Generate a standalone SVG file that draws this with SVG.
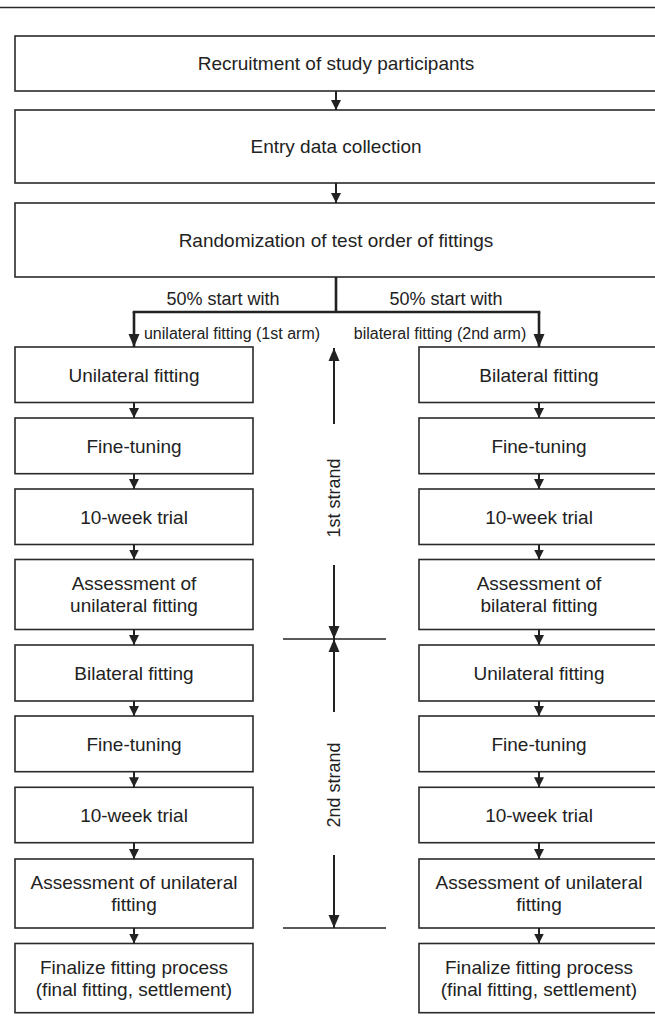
<svg xmlns="http://www.w3.org/2000/svg" width="655" height="1024" viewBox="0 0 655 1024">
<style>
.box{fill:#fff;stroke:#2a2a2a;stroke-width:1.6}
.t{font-family:"Liberation Sans",Arial,sans-serif;font-size:19px;fill:#222;text-anchor:middle}
.lb{font-family:"Liberation Sans",Arial,sans-serif;font-size:18px;fill:#222;text-anchor:middle}
.sl{font-family:"Liberation Sans",Arial,sans-serif;font-size:16px;fill:#222;text-anchor:middle}
.c{stroke:#222;stroke-width:2;fill:none}
.cb{stroke:#222;stroke-width:2.6;fill:none}
</style>
<defs>
<marker id="ah" markerUnits="userSpaceOnUse" markerWidth="11" markerHeight="11" refX="10" refY="5.5" orient="auto">
<path d="M0,0.5 L10,5.5 L0,10.5 Z" fill="#222"/>
</marker>
<marker id="ahb" markerUnits="userSpaceOnUse" markerWidth="14" markerHeight="12" refX="13" refY="6" orient="auto">
<path d="M0,0.5 L13,6 L0,11.5 Z" fill="#222"/>
</marker>
</defs>
<rect width="655" height="1024" fill="#fff"/>
<line x1="0" y1="7.5" x2="655" y2="7.5" stroke="#2a2a2a" stroke-width="1.5"/>

<g id="n-recruit"><rect class="box" x="15" y="36" width="645" height="55"/><text class="t" x="336" y="70">Recruitment of study participants</text></g>
<g id="n-entry"><rect class="box" x="15" y="110" width="645" height="73"/><text class="t" x="336" y="153">Entry data collection</text></g>
<g id="n-random"><rect class="box" x="15" y="203" width="645" height="74"/><text class="t" x="336" y="247">Randomization of test order of fittings</text></g>

<g id="labels">
<text class="lb" x="223" y="304.5">50% start with</text>
<text class="lb" x="446" y="304.5">50% start with</text>
<text class="sl" x="232" y="339">unilateral fitting (1st arm)</text>
<text class="sl" x="440" y="339">bilateral fitting (2nd arm)</text>
</g>

<g id="left-column">
<g id="l1"><rect class="box" x="15" y="347" width="238" height="55.5"/><text class="t" x="134" y="381.5">Unilateral fitting</text></g>
<g id="l2"><rect class="box" x="15" y="418" width="238" height="55.7"/><text class="t" x="134" y="452.6">Fine-tuning</text></g>
<g id="l3"><rect class="box" x="15" y="489" width="238" height="55.5"/><text class="t" x="134" y="523.5">10-week trial</text></g>
<g id="l4"><rect class="box" x="15" y="559.5" width="238" height="70"/><text class="t" x="134" y="590.3">Assessment of</text><text class="t" x="134" y="612.3">unilateral fitting</text></g>
<g id="l5"><rect class="box" x="15" y="645" width="238" height="56"/><text class="t" x="134" y="679.8">Bilateral fitting</text></g>
<g id="l6"><rect class="box" x="15" y="716" width="238" height="55.7"/><text class="t" x="134" y="750.6">Fine-tuning</text></g>
<g id="l7"><rect class="box" x="15" y="787.3" width="238" height="55.4"/><text class="t" x="134" y="821.8">10-week trial</text></g>
<g id="l8"><rect class="box" x="15" y="859" width="238" height="69"/><text class="t" x="134" y="889.3">Assessment of unilateral</text><text class="t" x="134" y="911.3">fitting</text></g>
<g id="l9"><rect class="box" x="15" y="943.5" width="238" height="69.2"/><text class="t" x="134" y="974">Finalize fitting process</text><text class="t" x="134" y="996">(final fitting, settlement)</text></g>
</g>

<g id="right-column">
<g id="r1"><rect class="box" x="419" y="347" width="241" height="55.5"/><text class="t" x="539" y="381.5">Bilateral fitting</text></g>
<g id="r2"><rect class="box" x="419" y="418" width="241" height="55.7"/><text class="t" x="539" y="452.6">Fine-tuning</text></g>
<g id="r3"><rect class="box" x="419" y="489" width="241" height="55.5"/><text class="t" x="539" y="523.5">10-week trial</text></g>
<g id="r4"><rect class="box" x="419" y="559.5" width="241" height="70"/><text class="t" x="539" y="590.3">Assessment of</text><text class="t" x="539" y="612.3">bilateral fitting</text></g>
<g id="r5"><rect class="box" x="419" y="645" width="241" height="56"/><text class="t" x="539" y="679.8">Unilateral fitting</text></g>
<g id="r6"><rect class="box" x="419" y="716" width="241" height="55.7"/><text class="t" x="539" y="750.6">Fine-tuning</text></g>
<g id="r7"><rect class="box" x="419" y="787.3" width="241" height="55.4"/><text class="t" x="539" y="821.8">10-week trial</text></g>
<g id="r8"><rect class="box" x="419" y="859" width="241" height="69"/><text class="t" x="539" y="889.3">Assessment of unilateral</text><text class="t" x="539" y="911.3">fitting</text></g>
<g id="r9"><rect class="box" x="419" y="943.5" width="241" height="69.2"/><text class="t" x="539" y="974">Finalize fitting process</text><text class="t" x="539" y="996">(final fitting, settlement)</text></g>
</g>

<g id="strands">
<text class="lb" transform="translate(340,498) rotate(-90)">1st strand</text>
<text class="lb" transform="translate(340,785) rotate(-90)">2nd strand</text>
</g>

<g id="connectors">
<line class="c" x1="336" y1="91" x2="336" y2="110" marker-end="url(#ah)"/>
<line class="c" x1="336" y1="183" x2="336" y2="203" marker-end="url(#ah)"/>
<line class="cb" x1="336" y1="277" x2="336" y2="312"/>
<line class="cb" x1="132.7" y1="312" x2="540.3" y2="312"/>
<line class="cb" x1="134" y1="312" x2="134" y2="347" marker-end="url(#ahb)"/>
<line class="cb" x1="539" y1="312" x2="539" y2="347" marker-end="url(#ahb)"/>

<line class="c" x1="134" y1="402.5" x2="134" y2="418" marker-end="url(#ah)"/>
<line class="c" x1="134" y1="473.7" x2="134" y2="489" marker-end="url(#ah)"/>
<line class="c" x1="134" y1="544.5" x2="134" y2="559.5" marker-end="url(#ah)"/>
<line class="c" x1="134" y1="629.5" x2="134" y2="645" marker-end="url(#ah)"/>
<line class="c" x1="134" y1="701" x2="134" y2="716" marker-end="url(#ah)"/>
<line class="c" x1="134" y1="771.7" x2="134" y2="787.3" marker-end="url(#ah)"/>
<line class="c" x1="134" y1="842.7" x2="134" y2="859" marker-end="url(#ah)"/>
<line class="c" x1="134" y1="928" x2="134" y2="943.5" marker-end="url(#ah)"/>

<line class="c" x1="539" y1="402.5" x2="539" y2="418" marker-end="url(#ah)"/>
<line class="c" x1="539" y1="473.7" x2="539" y2="489" marker-end="url(#ah)"/>
<line class="c" x1="539" y1="544.5" x2="539" y2="559.5" marker-end="url(#ah)"/>
<line class="c" x1="539" y1="629.5" x2="539" y2="645" marker-end="url(#ah)"/>
<line class="c" x1="539" y1="701" x2="539" y2="716" marker-end="url(#ah)"/>
<line class="c" x1="539" y1="771.7" x2="539" y2="787.3" marker-end="url(#ah)"/>
<line class="c" x1="539" y1="842.7" x2="539" y2="859" marker-end="url(#ah)"/>
<line class="c" x1="539" y1="928" x2="539" y2="943.5" marker-end="url(#ah)"/>

<line class="c" x1="334" y1="424" x2="334" y2="348" marker-end="url(#ahb)"/>
<line class="c" x1="334" y1="565" x2="334" y2="639" marker-end="url(#ahb)"/>
<line class="c" x1="334" y1="712" x2="334" y2="639" marker-end="url(#ahb)"/>
<line class="c" x1="334" y1="855" x2="334" y2="928" marker-end="url(#ahb)"/>
<line stroke="#222" stroke-width="1.5" x1="283" y1="639" x2="386" y2="639"/>
<line stroke="#222" stroke-width="1.5" x1="283" y1="928" x2="386" y2="928"/>
</g>
</svg>
